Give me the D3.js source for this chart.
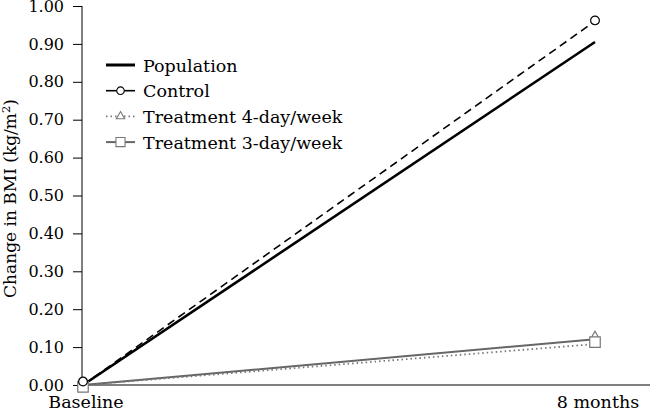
<!DOCTYPE html>
<html>
<head>
<meta charset="utf-8">
<script src="https://cdn.jsdelivr.net/npm/d3@7"></script>
<style>
  body { margin: 0; background: #fff; }
  svg text { font-family: "DejaVu Serif", serif; }
</style>
</head>
<body>
<div id="chart"></div>
<script>
/** data **/
var timepoints = ["Baseline", "8 months"];
var seriesNames = ["Population", "Control", "Treatment 4-day/week", "Treatment 3-day/week"];
var lineStart = [0.00, 0.00, 0.00, 0.00];
var lineEnd = [0.905, 0.960, 0.108, 0.121];
var markerStart = [null, 0.009, 0.00, -0.005];
var markerEnd = [null, 0.962, 0.127, 0.113];
var yTicks = [0, 0.1, 0.2, 0.3, 0.4, 0.5, 0.6, 0.7, 0.8, 0.9, 1.0];

/** styles per series **/
var strokes = ["#000", "#000", "#777", "#666"],
    widths = [2.6, 1.6, 1.8, 2],
    dashes = [null, "8,5", "1.5,3", null],
    shapes = [null, d3.symbolCircle, d3.symbolTriangle, d3.symbolSquare],
    sizes = [0, 60, 40, 110];

var width = 650, height = 411;

var svg = d3.select("#chart").append("svg")
    .attr("width", width)
    .attr("height", height);

var x = d3.scalePoint().domain(timepoints).range([83, 595]);
var y = d3.scaleLinear().domain([0, 1]).range([385, 6]);

// y axis
var yAxis = d3.axisLeft(y)
    .tickValues(yTicks)
    .tickFormat(d3.format(".2f"))
    .tickSize(9)
    .tickPadding(9);

var yg = svg.append("g")
    .attr("transform", "translate(82,0)")
    .call(yAxis);
yg.select(".domain").attr("d", "M0," + y(1) + "V" + y(0)).attr("stroke", "#000");
yg.selectAll("text").style("font-size", "16px").attr("fill", "#000");
yg.selectAll("line").attr("stroke", "#000");

// x axis: plain line plus labels underneath
svg.append("line")
    .attr("x1", 82).attr("x2", width)
    .attr("y1", y(0)).attr("y2", y(0))
    .attr("stroke", "#000");

svg.selectAll(".xlabel")
    .data(timepoints)
    .enter().append("text")
    .attr("class", "xlabel")
    .attr("x", function(d) { return x(d) + 3; })
    .attr("y", 408)
    .attr("text-anchor", "middle")
    .style("font-size", "17.5px")
    .text(function(d) { return d; });

// axis title
svg.append("text")
    .attr("transform", "translate(16," + ((y(0) + y(1)) / 2 + 3) + ") rotate(-90)")
    .attr("text-anchor", "middle")
    .style("font-size", "17px")
    .html("Change in BMI (kg/m<tspan dy='-6' font-size='11.5px'>2</tspan><tspan dy='6'>)</tspan>");

// lines
var line = d3.line()
    .x(function(d) { return x(d.t); })
    .y(function(d) { return y(d.v); });

var order = [3, 2, 0, 1];
order.forEach(function(i) {
    svg.append("path")
        .datum([{t: timepoints[0], v: lineStart[i]}, {t: timepoints[1], v: lineEnd[i]}])
        .attr("d", line)
        .attr("fill", "none")
        .attr("stroke", strokes[i])
        .attr("stroke-width", widths[i])
        .attr("stroke-dasharray", dashes[i]);
});

// markers
[2, 3, 1].forEach(function(i) {
    var pts = [{t: timepoints[0], v: markerStart[i]}, {t: timepoints[1], v: markerEnd[i]}];
    svg.selectAll(".m" + i)
        .data(pts)
        .enter().append("path")
        .attr("class", "m" + i)
        .attr("d", d3.symbol().type(shapes[i]).size(sizes[i]))
        .attr("transform", function(d) { return "translate(" + x(d.t) + "," + y(d.v) + ")"; })
        .attr("fill", "#fff")
        .attr("stroke", strokes[i] == "#000" ? "#000" : "#777")
        .attr("stroke-width", 1.2);
});

// legend
var legend = svg.append("g").attr("transform", "translate(106,65)");
var rows = legend.selectAll(".row")
    .data(seriesNames)
    .enter().append("g")
    .attr("class", "row")
    .attr("transform", function(d, i) { return "translate(0," + (i * 25.7) + ")"; });

rows.append("line")
    .attr("x1", 0).attr("x2", 29)
    .attr("stroke", function(d, i) { return strokes[i]; })
    .attr("stroke-width", function(d, i) { return i == 0 ? 3 : widths[i]; })
    .attr("stroke-dasharray", function(d, i) { return i == 2 ? dashes[i] : null; });

rows.filter(function(d, i) { return shapes[i]; })
    .append("path")
    .attr("transform", "translate(14.5,0)")
    .attr("d", function(d) {
        var i = seriesNames.indexOf(d);
        return d3.symbol().type(shapes[i]).size(sizes[i] * 0.75)();
    })
    .attr("fill", "#fff")
    .attr("stroke", function(d) { return seriesNames.indexOf(d) == 1 ? "#000" : "#777"; })
    .attr("stroke-width", 1.1);

rows.append("text")
    .attr("x", 37)
    .attr("y", 6.5)
    .style("font-size", "17.5px")
    .text(function(d) { return d; });
</script>
</body>
</html>
